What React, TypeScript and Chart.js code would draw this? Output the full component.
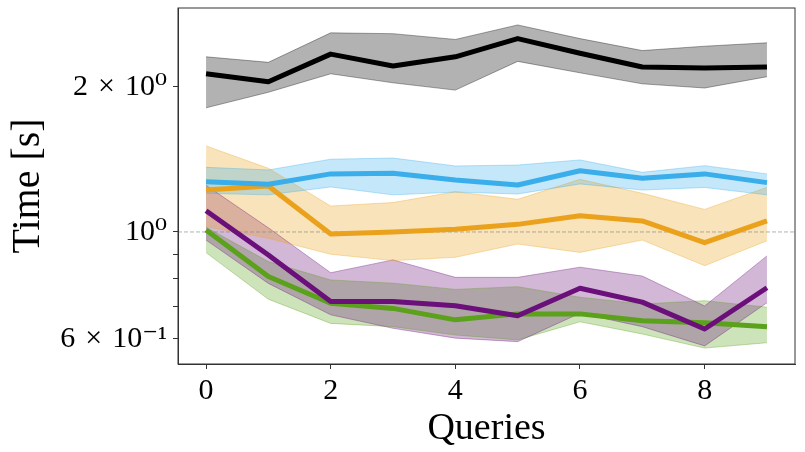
import { useEffect, useRef } from "react";
import { Chart, registerables } from "chart.js";

Chart.register(...registerables);

// ---- data ----
const QUERIES = [0, 1, 2, 3, 4, 5, 6, 7, 8, 9];

const BLACK_MEAN = [2.13, 2.05, 2.34, 2.21, 2.31, 2.52, 2.35, 2.2, 2.19, 2.2];
const BLACK_LOW = [1.81, 1.95, 2.13, 2.04, 1.97, 2.26, 2.14, 2.03, 1.99, 2.1];
const BLACK_HIGH = [2.31, 2.25, 2.59, 2.58, 2.51, 2.69, 2.52, 2.38, 2.43, 2.47];

const BLUE_MEAN = [1.272, 1.256, 1.32, 1.324, 1.282, 1.252, 1.34, 1.293, 1.32, 1.266];
const BLUE_LOW = [1.203, 1.194, 1.24, 1.194, 1.21, 1.199, 1.258, 1.222, 1.237, 1.194];
const BLUE_HIGH = [1.362, 1.345, 1.416, 1.424, 1.371, 1.377, 1.411, 1.33, 1.373, 1.32];

const ORANGE_MEAN = [1.222, 1.246, 0.99, 1.0, 1.013, 1.037, 1.081, 1.054, 0.95, 1.054];
const ORANGE_LOW = [1.026, 0.97, 0.899, 0.872, 0.886, 0.944, 0.907, 0.962, 0.851, 0.959];
const ORANGE_HIGH = [1.509, 1.356, 1.132, 1.151, 1.212, 1.169, 1.286, 1.203, 1.114, 1.238];

const PURPLE_MEAN = [1.107, 0.896, 0.717, 0.717, 0.703, 0.67, 0.764, 0.715, 0.629, 0.766];
const PURPLE_LOW = [0.962, 0.782, 0.673, 0.631, 0.602, 0.592, 0.678, 0.636, 0.58, 0.713];
const PURPLE_HIGH = [1.25, 1.02, 0.823, 0.875, 0.805, 0.805, 0.845, 0.81, 0.702, 0.892];

const GREEN_MEAN = [1.01, 0.808, 0.711, 0.694, 0.657, 0.676, 0.676, 0.654, 0.648, 0.636];
const GREEN_LOW = [0.906, 0.725, 0.646, 0.636, 0.611, 0.597, 0.651, 0.614, 0.574, 0.589];
const GREEN_HIGH = [1.023, 0.868, 0.795, 0.783, 0.76, 0.77, 0.732, 0.709, 0.72, 0.698];

const X_TICKS = [0, 2, 4, 6, 8];
const Y_TICKS = [0.6, 0.7, 0.8, 0.9, 1, 2];
const Y_TICK_LABELS: Record<string, string> = {
  "0.6": "6\u2004×\u200410⁻¹",
  "1": "10⁰",
  "2": "2\u2004×\u200410⁰",
};
const X_MIN = -0.45;
const X_MAX = 9.45;
const Y_MIN = 0.532;
const Y_MAX = 2.917;
const REFERENCE_Y = 1;

const X_TITLE = "Queries";
const Y_TITLE = "Time [s]";

// ---- styling ----
const FONT = '"Liberation Serif", "DejaVu Serif", serif';

const SERIES = [
  { rgb: "0,0,0", mean: BLACK_MEAN, low: BLACK_LOW, high: BLACK_HIGH },
  { rgb: "58,174,234", mean: BLUE_MEAN, low: BLUE_LOW, high: BLUE_HIGH },
  { rgb: "234,162,29", mean: ORANGE_MEAN, low: ORANGE_LOW, high: ORANGE_HIGH },
  { rgb: "107,15,122", mean: PURPLE_MEAN, low: PURPLE_LOW, high: PURPLE_HIGH },
  { rgb: "91,161,27", mean: GREEN_MEAN, low: GREEN_LOW, high: GREEN_HIGH },
];

const pts = (vals: number[]) => QUERIES.map((q, i) => ({ x: q, y: vals[i] }));

export default function App() {
  const ref = useRef<HTMLCanvasElement | null>(null);

  useEffect(() => {
    document.body.style.margin = "0";
    const canvas = ref.current;
    if (!canvas) return;

    const lineSets: any[] = SERIES.map((s) => ({
      data: pts(s.mean),
      borderColor: `rgb(${s.rgb})`,
      borderWidth: 5,
      pointRadius: 0,
      fill: false,
      tension: 0,
      borderJoinStyle: "round",
      borderCapStyle: "butt",
    }));

    const bandSets: any[] = [];
    SERIES.forEach((s) => {
      bandSets.push({
        data: pts(s.low),
        borderColor: `rgba(${s.rgb},0.35)`,
        borderWidth: 1,
        pointRadius: 0,
        fill: false,
        tension: 0,
      });
      bandSets.push({
        data: pts(s.high),
        borderColor: `rgba(${s.rgb},0.35)`,
        borderWidth: 1,
        pointRadius: 0,
        fill: "-1",
        backgroundColor: `rgba(${s.rgb},0.3)`,
        tension: 0,
      });
    });

    const refLine = {
      id: "refLine",
      beforeDatasetsDraw(chart: any) {
        const { ctx, chartArea } = chart;
        const y = chart.scales.y.getPixelForValue(REFERENCE_Y);
        ctx.save();
        ctx.strokeStyle = "rgba(128,128,128,0.75)";
        ctx.lineWidth = 0.8;
        ctx.setLineDash([4, 2]);
        ctx.beginPath();
        ctx.moveTo(chartArea.left, y);
        ctx.lineTo(chartArea.right, y);
        ctx.stroke();
        ctx.restore();
      },
    };

    const frame = {
      id: "frame",
      afterDraw(chart: any) {
        const { ctx, chartArea } = chart;
        ctx.save();
        ctx.strokeStyle = "#333";
        ctx.lineWidth = 1;
        ctx.strokeRect(
          chartArea.left,
          chartArea.top,
          chartArea.right - chartArea.left,
          chartArea.bottom - chartArea.top
        );
        ctx.restore();
      },
    };

    const chart = new Chart(canvas, {
      type: "line",
      data: { datasets: [...lineSets, ...bandSets] },
      options: {
        responsive: false,
        animation: false,
        devicePixelRatio: 1,
        layout: { padding: { left: 0, right: 10, top: 8, bottom: 0 } },
        plugins: {
          legend: { display: false },
          tooltip: { enabled: false },
          filler: { drawTime: "beforeDatasetsDraw" },
        } as any,
        scales: {
          x: {
            type: "linear",
            min: X_MIN,
            max: X_MAX,
            afterBuildTicks: (s: any) => {
              s.ticks = X_TICKS.map((v) => ({ value: v }));
            },
            ticks: {
              font: { family: FONT, size: 30 },
              color: "#000",
              padding: 4,
              maxRotation: 0,
              autoSkip: false,
              callback: (v: any) => String(v),
            },
            grid: {
              drawOnChartArea: false,
              drawTicks: true,
              tickLength: 5,
              tickColor: "#333",
              tickWidth: 1,
            },
            border: { display: true, color: "#333", width: 1 },
            title: {
              display: true,
              text: X_TITLE,
              color: "#000",
              font: { family: FONT, size: 38 },
              padding: { top: 0, bottom: 0 },
            },
            afterFit: (s: any) => {
              s.height = 88;
              s.paddingLeft = 0;
              s.paddingRight = 0;
            },
          },
          y: {
            type: "logarithmic",
            min: Y_MIN,
            max: Y_MAX,
            afterBuildTicks: (s: any) => {
              s.ticks = Y_TICKS.map((v) => ({ value: v }));
            },
            ticks: {
              font: { family: FONT, size: 30 },
              color: "#000",
              padding: 6,
              autoSkip: false,
              callback: (v: any) => Y_TICK_LABELS[String(v)] ?? "",
            },
            grid: {
              drawOnChartArea: false,
              drawTicks: true,
              tickLength: 5,
              tickColor: "#333",
              tickWidth: 1,
            },
            border: { display: true, color: "#333", width: 1 },
            title: {
              display: true,
              text: Y_TITLE,
              color: "#000",
              font: { family: FONT, size: 40 },
              padding: { top: 4, bottom: 0 },
            },
            afterFit: (s: any) => {
              s.width = 178;
              s.paddingTop = 0;
              s.paddingBottom = 0;
            },
          },
        },
      } as any,
      plugins: [refLine, frame],
    });

    return () => chart.destroy();
  }, []);

  return (
    <div style={{ width: 805, height: 452 }}>
      <canvas ref={ref} width={805} height={452} style={{ display: "block" }} />
    </div>
  );
}
